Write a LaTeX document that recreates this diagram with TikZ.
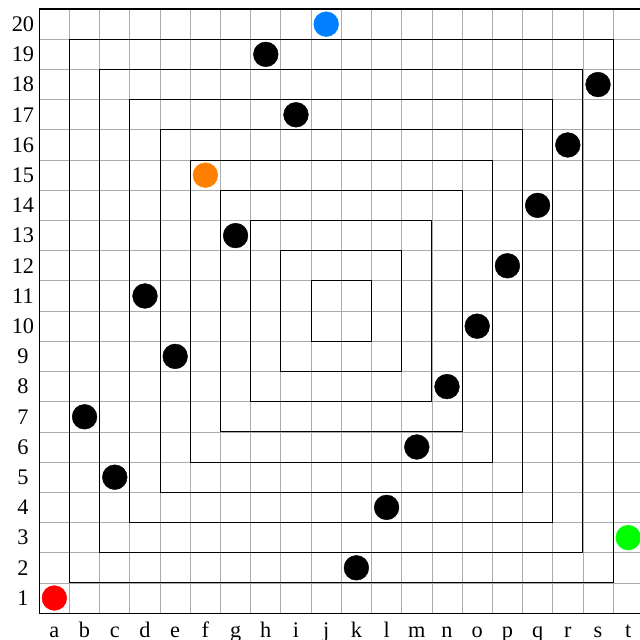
\documentclass[tikz,border=0pt]{standalone}
\usepackage{fontspec}
\setmainfont{Liberation Serif}
\usetikzlibrary{positioning}

\definecolor{dotred}{RGB}{255,0,0}
\definecolor{dotorange}{RGB}{255,128,0}
\definecolor{dotblue}{RGB}{0,128,255}
\definecolor{dotgreen}{RGB}{0,255,0}

\begin{document}
\begin{tikzpicture}[x=1cm,y=1cm,
    cell/.style={draw=gray!65,line width=0.75pt},
    ring/.style={draw=black,line width=0.9pt},
    stone/.style={circle,inner sep=0pt,minimum size=0.82cm,fill=#1,draw=#1},
    lbl/.style={font=\fontsize{21}{21}\selectfont}]
  \useasboundingbox (-1.30,-0.89) rectangle (19.89,20.30);
  \clip (-1.30,-0.89) rectangle (19.89,20.30);
  % board
  \draw[cell] (0,0) grid (20,20);
  \foreach \k in {1,...,9}
    \draw[ring] (\k,\k) rectangle (20-\k,20-\k);
  \draw[line width=1.1pt] (20,20) -- (0,20) -- (0,0) -- (20,0);
  % labels
  \foreach \c [count=\i from 0] in {a,...,t}
    \node[lbl,anchor=base] (col\c) at (\i+0.5,-0.80) {\c};
  \foreach \r in {1,...,20}
    \node[lbl] (row\r) at (-0.54,\r-0.5) {\r};
  % stones
  \foreach \c/\r/\col in {a/1/dotred,f/15/dotorange,j/20/dotblue,t/3/dotgreen,
      b/7/black,c/5/black,d/11/black,e/9/black,g/13/black,h/19/black,i/17/black,
      k/2/black,l/4/black,m/6/black,n/8/black,o/10/black,p/12/black,q/14/black,
      r/16/black,s/18/black}
    \node[stone=\col] (\c\r) at (col\c |- row\r) {};
\end{tikzpicture}
\end{document}
